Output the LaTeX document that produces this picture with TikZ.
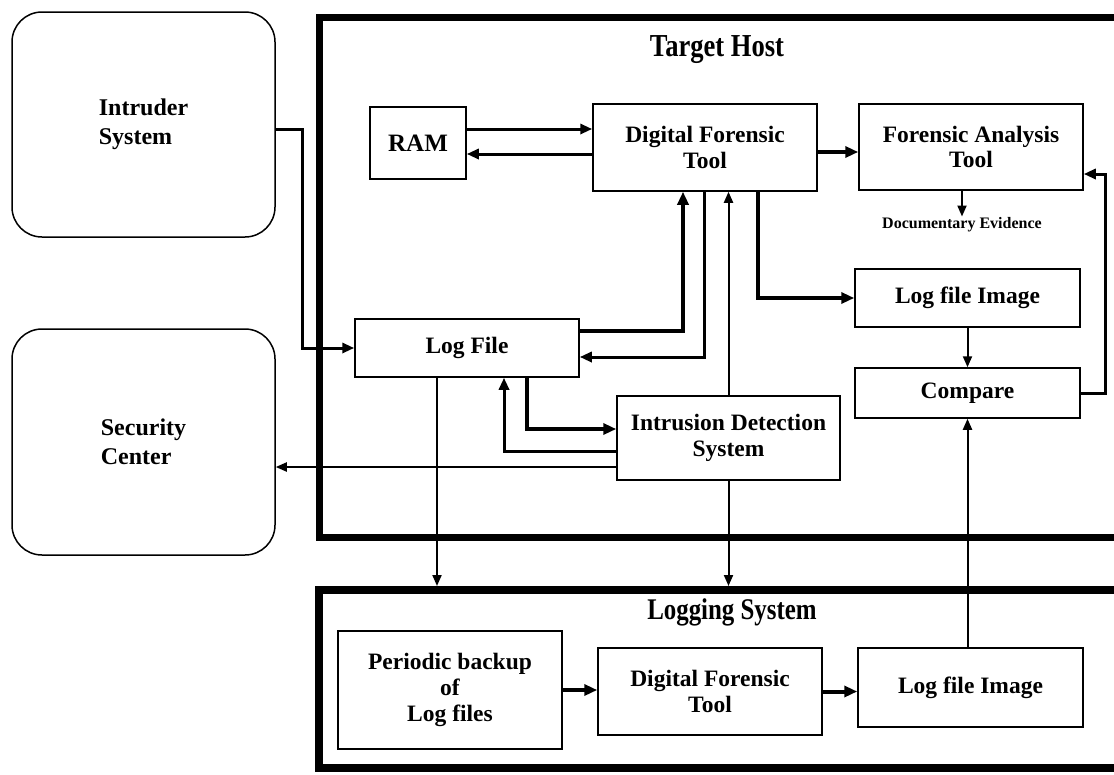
\documentclass[tikz,border=0pt]{standalone}
\usepackage{fontspec}
\setmainfont{Liberation Serif}
\newfontfamily\condfont[FakeStretch=0.83]{Liberation Serif}
\usetikzlibrary{arrows.meta}
\begin{document}
\begin{tikzpicture}[x=1pt,y=-1pt,font=\bfseries,
  box/.style={draw,line width=1.5pt,align=center,inner sep=0pt,font=\bfseries\fontsize{23.5}{25.5}\selectfont},
  rbox/.style={draw,line width=1.5pt,rounded corners=30pt,align=left,inner sep=0pt,font=\bfseries\fontsize{24}{29}\selectfont},
  frame/.style={draw,line width=7pt,inner sep=0pt},
  c2/.style={line width=2pt,-{Triangle[length=11pt,width=9pt]}},
  c3/.style={line width=3pt,-{Triangle[length=12pt,width=10pt]}},
  c4/.style={line width=4pt,-{Triangle[length=13pt,width=11pt]}}]
\useasboundingbox (0,0) rectangle (1114,774);
\clip (0,0) rectangle (1114,774);

% frames
\node[frame,minimum width=816pt,minimum height=520pt] (th) at (727,277) {};
\node[frame,line width=8pt,minimum width=816pt,minimum height=178pt] (ls) at (727,679) {};
\node[font=\condfont\bfseries\fontsize{32}{34}\selectfont] (tht) at (717,50) {Target Host};
\node[font=\condfont\bfseries\fontsize{30}{32}\selectfont] (lst) at (732,612) {Logging System};

% outside boxes
\node[rbox,minimum width=263pt,minimum height=225pt] (intr) at (143.5,124.5) {Intruder\\System};
\node[rbox,minimum width=263pt,minimum height=226pt] (sec) at (143.5,442) {Security\\Center};

% target host boxes
\node[box,font=\bfseries\fontsize{25}{27}\selectfont,minimum width=96pt,minimum height=72pt] (ram) at (418,143) {RAM};
\node[box,minimum width=224pt,minimum height=87pt] (dft) at (705,147.5) {Digital Forensic\\Tool};
\node[box,minimum width=224pt,minimum height=86pt] (fat) at (971,147) {Forensic Analysis\\Tool};
\node[font=\bfseries\fontsize{16}{18}\selectfont,inner sep=1pt] (doc) at (962,225) {Documentary Evidence};
\node[box,minimum width=225pt,minimum height=58pt] (lfi) at (967.5,298) {Log file Image};
\node[box,minimum width=225pt,minimum height=50pt] (cmp) at (967.5,393) {Compare};
\node[box,minimum width=224pt,minimum height=58pt] (lf) at (467,348) {Log File};
\node[box,minimum width=223pt,minimum height=84pt] (ids) at (728.5,438) {Intrusion Detection\\System};

% logging system boxes
\node[box,font=\bfseries\fontsize{23.5}{26}\selectfont,minimum width=224pt,minimum height=118pt] (pb) at (450,690) {Periodic backup\\of\\Log files};
\node[box,minimum width=224pt,minimum height=87pt] (dft2) at (710,691.5) {Digital Forensic\\Tool};
\node[box,minimum width=225pt,minimum height=79pt] (lfi2) at (970.5,687.5) {Log file Image};

% helper coordinates
\coordinate (in1) at ([yshift=-4.5pt]intr.east);
\coordinate (r1) at ([yshift=14pt]ram.east);
\coordinate (r2) at ([yshift=-11pt]ram.east);
\coordinate (d1) at ([yshift=-4.5pt]dft.east);
\coordinate (f1) at ([yshift=-27pt]fat.east);
\coordinate (d2) at ([xshift=53pt]dft.south);
\coordinate (l1) at ([yshift=17pt]lf.east);
\coordinate (d3) at ([xshift=-22pt]dft.south);
\coordinate (d4) at ([xshift=-1pt]dft.south);
\coordinate (l2) at ([yshift=-9pt]lf.east);
\coordinate (l3) at ([xshift=60pt]lf.south);
\coordinate (i1) at ([yshift=9pt]ids.west);
\coordinate (i2) at ([yshift=-13pt]ids.west);
\coordinate (l4) at ([xshift=37pt]lf.south);
\coordinate (p1) at ([yshift=-29pt]ids.west);
\coordinate (l5) at ([xshift=-30pt]lf.south);

% connectors
\draw[c3] (in1) -- ++(27,0) |- (lf.west);
\draw[c2] (p1) -- (p1 -| sec.east);
\draw[c3] (r1) -- (r1 -| dft.west);
\draw[c3] (r2 -| dft.west) -- (r2);
\draw[c4] (d1) -- (d1 -| fat.west);
\draw[c2] (doc.north |- fat.south) -- (doc.north);
\draw[c3] (cmp.east) -- ++(25,0) |- (f1);
\draw[c2] (lfi.south) -- (cmp.north);
\draw[c4] (d2) |- (lfi.west);
\draw[c4] (l1) -| (d3);
\draw[c3] (d4) |- (l2);
\draw[c2] (ids.north) -- (ids.north |- dft.south);
\draw[c4] (l3) |- (i1);
\draw[c3] (i2) -| (l4);
\draw[c2] (l5) -- (l5 |- ls.north);
\draw[c2] (ids.south) -- (ids.south |- ls.north);
\draw[c2] (cmp.south |- lfi2.north) -- (cmp.south);
\draw[c4] (pb.east) -- (pb.east -| dft2.west);
\draw[c4] (dft2.east) -- (dft2.east -| lfi2.west);
\end{tikzpicture}
\end{document}
